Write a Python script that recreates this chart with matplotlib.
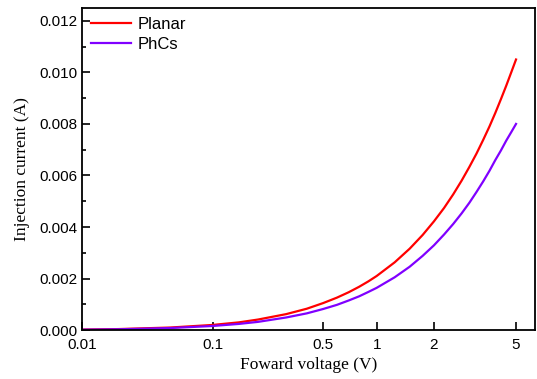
import matplotlib
matplotlib.use("Agg")
import matplotlib.pyplot as plt
from matplotlib.ticker import MultipleLocator, FixedLocator

# values
voltage = [0.01, 0.02, 0.05, 0.1, 0.15, 0.2, 0.3, 0.4, 0.5, 0.6, 0.7, 0.8,
           0.9, 1.0, 1.25, 1.5, 1.75, 2.0, 2.25, 2.5, 2.75, 3.0, 3.25, 3.5,
           3.75, 4.0, 4.25, 4.5, 4.75, 5.0]
planar = [0.00002, 0.00004, 0.0001, 0.0002, 0.0003, 0.00041, 0.00062, 0.00083,
          0.00105, 0.00126, 0.00147, 0.00168, 0.00189, 0.0021, 0.00263,
          0.00316, 0.00369, 0.00422, 0.00474, 0.00527, 0.0058, 0.00633,
          0.00685, 0.00738, 0.0079, 0.00843, 0.00896, 0.00948, 0.01, 0.0105]
phcs = [0.000016, 0.000032, 0.00008, 0.00016, 0.00024, 0.00032, 0.00049,
        0.00065, 0.00082, 0.00098, 0.00115, 0.00131, 0.00148, 0.00164,
        0.00205, 0.00246, 0.00288, 0.00329, 0.00371, 0.00412, 0.00453,
        0.00494, 0.00536, 0.00577, 0.00618, 0.0066, 0.00697, 0.00735,
        0.00768, 0.0080]
x_ticks = [0.01, 0.1, 0.5, 1, 2, 5]
x_tick_labels = ["0.01", "0.1", "0.5", "1", "2", "5"]

sans = "Liberation Sans"
serif = "Liberation Serif"

fig = plt.figure(figsize=(5.37, 3.79), dpi=100)
ax = fig.add_axes([0.153, 0.129, 0.843, 0.850])

ax.plot(voltage, planar, color="#ff0000", lw=1.6, label="Planar",
        solid_joinstyle="round")
ax.plot(voltage, phcs, color="#8000ff", lw=1.6, label="PhCs",
        solid_joinstyle="round")

# the x axis of the original is squeezed somewhere between log and linear
ax.set_xscale("function", functions=(lambda v: v ** 0.1, lambda v: v ** 10))
ax.set_xlim(0.01, 6.1)
ax.set_ylim(0, 0.0125)
ax.xaxis.set_major_locator(FixedLocator(x_ticks))
ax.set_xticklabels(x_tick_labels)
ax.xaxis.set_minor_locator(FixedLocator([]))
ax.yaxis.set_major_locator(MultipleLocator(0.002))
ax.yaxis.set_minor_locator(MultipleLocator(0.001))
ax.yaxis.set_major_formatter(plt.FuncFormatter(lambda v, p: f"{v:.3f}"))

ax.tick_params(which="both", direction="in", width=1.2, labelsize=11)
ax.tick_params(which="major", length=6)
ax.tick_params(which="minor", length=3)
ax.tick_params(axis="x", pad=6)
ax.tick_params(axis="y", pad=3)
for lab in ax.get_xticklabels() + ax.get_yticklabels():
    lab.set_fontfamily(sans)
for s in ax.spines.values():
    s.set_linewidth(1.3)

ax.set_xlabel("Foward voltage (V)", family=serif, fontsize=12.5, labelpad=3)
ax.set_ylabel("Injection current (A)", family=serif, fontsize=12.5, labelpad=7)

ax.legend(loc="upper left", frameon=False, prop={"family": sans, "size": 12},
          handlelength=2.4, handletextpad=0.4, labelspacing=0.3,
          borderaxespad=0.35, borderpad=0.2)

fig.savefig("out.png", dpi=100)
